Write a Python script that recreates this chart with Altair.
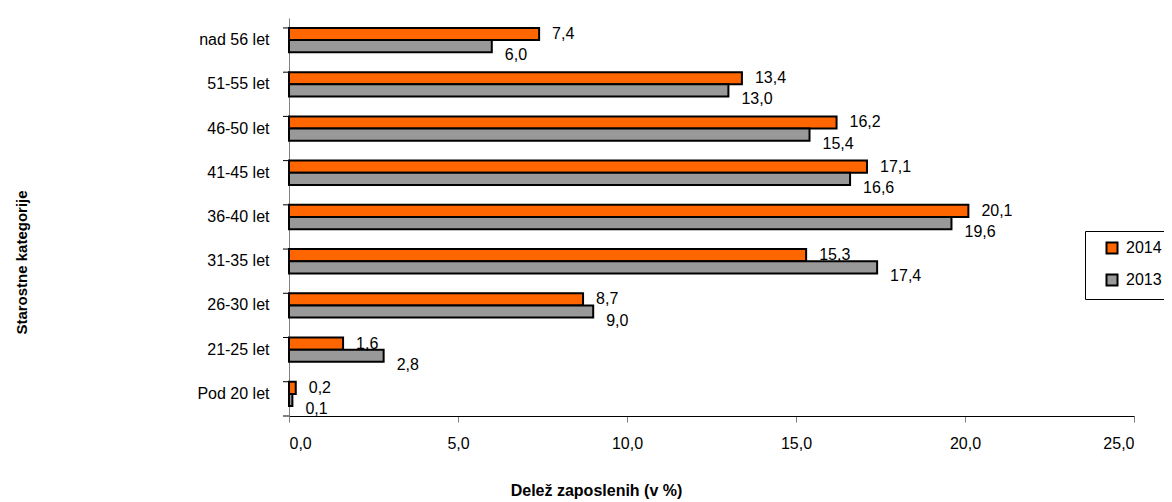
import altair as alt
import pandas as pd

categories = ["nad 56 let", "51-55 let", "46-50 let", "41-45 let", "36-40 let",
              "31-35 let", "26-30 let", "21-25 let", "Pod 20 let"]
values_2014 = [7.4, 13.4, 16.2, 17.1, 20.1, 15.3, 8.7, 1.6, 0.2]
values_2013 = [6.0, 13.0, 15.4, 16.6, 19.6, 17.4, 9.0, 2.8, 0.1]
series = ["2014", "2013"]
colors = ["#FF6600", "#999999"]

rows = []
for c, a, b in zip(categories, values_2014, values_2013):
    rows.append({"cat": c, "year": "2014", "value": a})
    rows.append({"cat": c, "year": "2013", "value": b})
df = pd.DataFrame(rows)

FONT = "Liberation Sans"
W, H = 845, 398

yenc = alt.Y("cat:N", sort=categories,
             scale=alt.Scale(paddingInner=0.45, paddingOuter=0.225),
             axis=alt.Axis(title="Starostne kategorije", ticks=False, grid=False,
                           domainColor="#808080",
                           labelFont=FONT, labelFontSize=16, labelColor="black",
                           labelPadding=20,
                           titleFont=FONT, titleFontSize=15, titleFontWeight="bold",
                           titleColor="black", titleX=-268, titleY=244, titleAngle=270,
                           titleAlign="center", titleBaseline="middle"))
xenc = alt.X("value:Q", scale=alt.Scale(domain=[0, 25], nice=False),
             axis=alt.Axis(values=[0, 5, 10, 15, 20, 25], title="Delež zaposlenih (v %)",
                           labelExpr="replace(format(datum.value, '.1f'), '.', ',')",
                           grid=False, domainColor="black", tickColor="#808080",
                           tickSize=6, labelPadding=13, labelFont=FONT, labelFontSize=16,
                           labelColor="black", titleFont=FONT, titleFontSize=16,
                           titleFontWeight="bold", titleColor="black", titleX=307, titleY=74,
                           titleBaseline="middle", titleAlign="center"))
yoff = alt.YOffset("year:N", sort=series, scale=alt.Scale(domain=series, paddingInner=0, paddingOuter=0))
color = alt.Color("year:N", sort=series, scale=alt.Scale(domain=series, range=colors),
                  legend=alt.Legend(title=None, orient="none", legendX=796, legendY=213,
                                    direction="vertical", symbolType="square", symbolSize=121,
                                    symbolStrokeColor="black", symbolStrokeWidth=2,
                                    labelFont=FONT, labelFontSize=16, labelColor="black",
                                    labelOffset=6, rowPadding=12, padding=9,
                                    symbolOffset=10, strokeColor="black", fillColor="white"))

base = alt.Chart(df)
bars = base.mark_bar(stroke="black", strokeWidth=2).encode(
    x=xenc, y=yenc, yOffset=yoff, color=color)

lab = base.transform_calculate(
    label="replace(format(datum.value, '.1f'), '.', ',')")
t14 = lab.transform_filter("datum.year == '2014'").mark_text(
    align="left", baseline="middle", dx=13, dy=0, font=FONT, fontSize=16, color="black"
).encode(x="value:Q", y=alt.Y("cat:N", sort=categories), yOffset=yoff, text="label:N")
t13 = lab.transform_filter("datum.year == '2013'").mark_text(
    align="left", baseline="middle", dx=13, dy=9, font=FONT, fontSize=16, color="black"
).encode(x="value:Q", y=alt.Y("cat:N", sort=categories), yOffset=yoff, text="label:N")

ticks = alt.Chart(pd.DataFrame({"cat": categories})).mark_rule(color="black", strokeWidth=1).encode(
    y=alt.Y("cat:N", sort=categories, bandPosition=0), x=alt.value(-6), x2=alt.value(0))
bottom = alt.Chart(pd.DataFrame({"cat": [categories[-1]]})).mark_rule(color="black", strokeWidth=1).encode(
    y=alt.value(H), x=alt.value(-6), x2=alt.value(0))

chart = alt.layer(bars, t14, t13, ticks, bottom).properties(
    width=W, height=H,
    background="white",
    autosize=alt.AutoSizeParams(type="none"),
    padding={"left": 281, "top": 10, "right": 30, "bottom": 84},
).configure_view(strokeWidth=0).configure_axis(grid=False)

chart.save("out.html", embed_options={"renderer": "svg", "actions": False})
